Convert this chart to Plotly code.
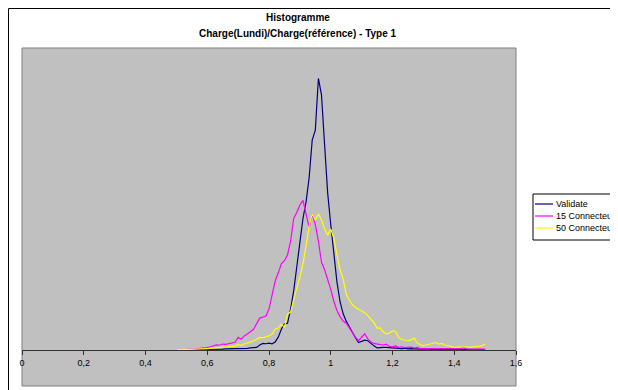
import plotly.graph_objects as go

# ---- data ----
x_ratio = [0.50, 0.51, 0.52, 0.53, 0.54, 0.55, 0.56, 0.57, 0.58, 0.59,
           0.60, 0.61, 0.62, 0.63, 0.64, 0.65, 0.66, 0.67, 0.68, 0.69,
           0.70, 0.71, 0.72, 0.73, 0.74, 0.75, 0.76, 0.77, 0.78, 0.79,
           0.80, 0.81, 0.82, 0.83, 0.84, 0.85, 0.86, 0.87, 0.88, 0.89,
           0.90, 0.91, 0.92, 0.93, 0.94, 0.95, 0.96, 0.97, 0.98, 0.99,
           1.00, 1.01, 1.02, 1.03, 1.04, 1.05, 1.06, 1.07, 1.08, 1.09,
           1.10, 1.11, 1.12, 1.13, 1.14, 1.15, 1.16, 1.17, 1.18, 1.19,
           1.20, 1.21, 1.22, 1.23, 1.24, 1.25, 1.26, 1.27, 1.28, 1.29,
           1.30, 1.31, 1.32, 1.33, 1.34, 1.35, 1.36, 1.37, 1.38, 1.39,
           1.40, 1.41, 1.42, 1.43, 1.44, 1.45, 1.46, 1.47, 1.48, 1.49,
           1.50]

validate = [0, 0, 0, 0, 0, 0, 0, 0, 0.1, 0.1,
            0.1, 0.1, 0.2, 0.1, 0.2, 0.2, 0.3, 0.3, 0.3, 0.4,
            0.4, 0.4, 0.5, 0.5, 0.6, 0.6, 0.8, 1.6, 2.1, 2.0,
            2.2, 2.0, 2.6, 4.2, 6.8, 8.6, 8.8, 13.5, 19.5, 27.5,
            36.0, 43.5, 49.0, 57.0, 69.5, 72.8, 89.9, 84.5, 68.0, 52.0,
            41.5, 32.0, 22.5, 16.0, 12.0, 9.5, 7.5, 5.6, 4.0, 2.4,
            2.8, 3.2, 3.0, 2.0, 1.3, 0.6, 0.8, 0.8, 0.8, 0.7,
            0.8, 0.5, 0.6, 0.4, 0.5, 0.3, 0.4, 0.3, 0.3, 0.2,
            0.3, 0.2, 0.2, 0.1, 0.2, 0.2, 0.1, 0.2, 0.1, 0.1,
            0.2, 0.1, 0.1, 0.1, 0.2, 0.1, 0.1, 0.1, 0.1, 0.1,
            0.1]

connect15 = [0.1, 0.1, 0.2, 0.1, 0.2, 0.3, 0.2, 0.4, 0.5, 0.4,
             0.7, 1.0, 1.2, 1.6, 1.5, 1.9, 1.8, 2.0, 2.2, 2.5,
             4.1, 3.5, 4.6, 5.2, 6.0, 6.8, 8.8, 10.5, 10.8, 11.2,
             13.5, 18.5, 22.8, 25.5, 28.5, 29.5, 31.5, 36.0, 43.5, 45.5,
             48.0, 49.5, 45.0, 40.6, 45.0, 41.5, 36.0, 29.0, 26.5, 23.5,
             20.0, 16.0, 13.0, 11.0, 9.5, 8.8, 7.3, 5.5, 4.2, 3.0,
             4.0, 5.3, 3.6, 2.6, 2.1, 1.8, 1.7, 1.6, 1.9, 1.1,
             1.0, 1.3, 0.8, 1.0, 0.7, 0.8, 0.9, 0.6, 0.8, 0.4,
             0.4, 0.3, 0.4, 0.3, 0.3, 0.4, 0.2, 0.3, 0.2, 0.3,
             0.2, 0.3, 0.4, 0.8, 0.3, 0.2, 0.2, 0.3, 0.2, 0.2,
             0.2]

connect50 = [0.1, 0.2, 0.1, 0.2, 0.1, 0.2, 0.3, 0.2, 0.3, 0.3,
             0.4, 0.5, 0.5, 0.6, 0.6, 0.8, 0.8, 0.9, 1.0, 1.2,
             1.7, 1.5, 1.9, 2.2, 2.4, 2.9, 3.5, 4.1, 4.0, 4.3,
             4.6, 5.2, 6.9, 7.2, 8.5, 7.4, 11.8, 12.5, 17.0, 20.5,
             24.0, 28.5, 34.5, 41.0, 45.0, 42.9, 45.0, 43.0, 40.0, 38.0,
             40.0, 37.0, 31.5, 26.5, 23.5, 18.5, 16.5, 15.0, 14.0, 13.4,
             12.8, 12.3, 11.3, 10.0, 9.0, 7.2, 7.2, 6.0, 5.3, 5.5,
             6.3, 6.0, 4.1, 3.4, 3.2, 3.0, 3.3, 3.9, 2.2, 1.7,
             1.3, 1.6, 1.9, 2.2, 2.4, 1.9, 2.1, 1.6, 1.3, 1.0,
             0.8, 0.9, 1.0, 1.1, 1.0, 0.8, 0.9, 1.0, 1.1, 1.3,
             1.9]

series_names = ["Validate", "15 Connecteurs", "50 Connecteurs"]
series_colors = ["#000080", "#FF00FF", "#FFFF00"]
tick_vals = [0, 0.2, 0.4, 0.6, 0.8, 1.0, 1.2, 1.4, 1.6]
tick_text = ["0", "0,2", "0,4", "0,6", "0,8", "1", "1,2", "1,4", "1,6"]
title_1 = "Histogramme"
title_2 = "Charge(Lundi)/Charge(référence) - Type 1"

# ---- layout geometry (figure pixels; page has an 8px body margin) ----
OFF = 8
W, H = 618 - OFF, 390 - OFF
ML, MR, MT, MB = 14, 102, 40, 4
PW, PH = W - ML - MR, H - MT - MB
Y_MIN, Y_MAX = -12, 100


def px_x(p):
    # p: page pixel x
    return (p - OFF - ML) / PW


def px_y(p):
    # p: page pixel y
    return (H - MB - (p - OFF)) / PH


fig = go.Figure()
for name, vals, col in zip(series_names, [validate, connect15, connect50], series_colors):
    fig.add_trace(go.Scatter(x=x_ratio, y=vals, mode="lines", name=name,
                             line=dict(color=col, width=1.2), showlegend=False))

FONT = "Liberation Sans, Arial, sans-serif"

shapes = [
    # outer chart border
    dict(type="rect", xref="paper", yref="paper",
         x0=px_x(8.5), x1=px_x(640), y0=px_y(8.5), y1=px_y(400),
         line=dict(color="black", width=1), fillcolor="rgba(0,0,0,0)", layer="below"),
    # plot area border
    dict(type="rect", xref="paper", yref="paper",
         x0=0, x1=1, y0=0, y1=1,
         line=dict(color="#808080", width=1), fillcolor="rgba(0,0,0,0)", layer="below"),
    # legend box
    dict(type="rect", xref="paper", yref="paper",
         x0=px_x(533), x1=px_x(640), y0=px_y(194), y1=px_y(240),
         line=dict(color="black", width=1), fillcolor="white"),
]
annotations = [
    dict(text="<b>" + title_1 + "</b>", xref="paper", yref="paper",
         x=px_x(298), y=px_y(17), showarrow=False, xanchor="center", yanchor="middle",
         font=dict(family=FONT, size=10, color="black")),
    dict(text="<b>" + title_2 + "</b>", xref="paper", yref="paper",
         x=px_x(298), y=px_y(33), showarrow=False, xanchor="center", yanchor="middle",
         font=dict(family=FONT, size=10, color="black")),
]
for i, (name, col) in enumerate(zip(series_names, series_colors)):
    yy = 204 + 12 * i
    shapes.append(dict(type="line", xref="paper", yref="paper",
                       x0=px_x(535), x1=px_x(553), y0=px_y(yy), y1=px_y(yy),
                       line=dict(color=col, width=1.2)))
    annotations.append(dict(text=name, xref="paper", yref="paper",
                            x=px_x(554), y=px_y(yy), showarrow=False,
                            xanchor="left", yanchor="middle",
                            font=dict(family=FONT, size=9, color="black")))

fig.update_layout(
    width=W, height=H,
    margin=dict(l=ML, r=MR, t=MT, b=MB, autoexpand=False),
    paper_bgcolor="white",
    plot_bgcolor="#C0C0C0",
    showlegend=False,
    shapes=shapes,
    annotations=annotations,
    xaxis=dict(range=[0, 1.6], tickvals=tick_vals, ticktext=tick_text,
               anchor="free", position=(0 - Y_MIN) / (Y_MAX - Y_MIN),
               showline=True, linecolor="#333333", linewidth=1,
               ticks="outside", ticklen=4, tickcolor="#333333",
               showgrid=False, zeroline=False,
               tickfont=dict(family=FONT, size=9, color="black")),
    yaxis=dict(range=[Y_MIN, Y_MAX], visible=False, showgrid=False, zeroline=False),
)

fig.write_html("out.html")
